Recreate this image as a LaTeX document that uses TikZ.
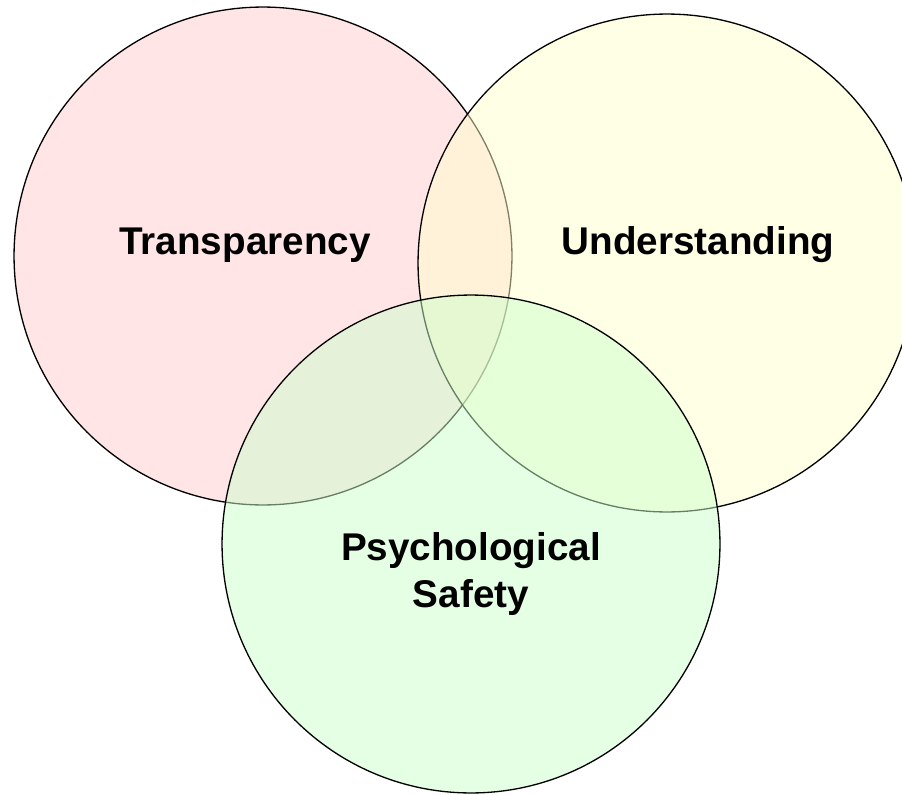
\documentclass[tikz,border=0pt]{standalone}
\usepackage{fontspec}
\setsansfont{Liberation Sans}
\usepackage{tikz}
\usetikzlibrary{positioning}

\definecolor{transpink}{RGB}{255,204,204}
\definecolor{underyellow}{RGB}{255,255,204}
\definecolor{safegreen}{RGB}{204,255,204}

\begin{document}
\begin{tikzpicture}[x=0.02cm,y=-0.02cm]
        \useasboundingbox (0,0) rectangle (902,794);
        \begin{scope}[every node/.style={circle,draw=black,line width=0.75pt,fill opacity=0.5,minimum size=9.96cm,inner sep=0pt}]
          \node[fill=transpink] (trans) at (263,256) {};
          \node[fill=underyellow] (under) at (667,263) {};
          \node[fill=safegreen] (safe) at (471,544) {};
        \end{scope}
        \begin{scope}[every node/.style={font=\sffamily\bfseries\fontsize{22}{27.2}\selectfont,align=center}]
          \node[anchor=base] (translabel) at (245,254) {Transparency};
          \node[anchor=base] (underlabel) at (698,254) {Understanding};
          \node (safelabel) at (471,574) {Psychological\\Safety};
        \end{scope}
      \end{tikzpicture}
\end{document}
